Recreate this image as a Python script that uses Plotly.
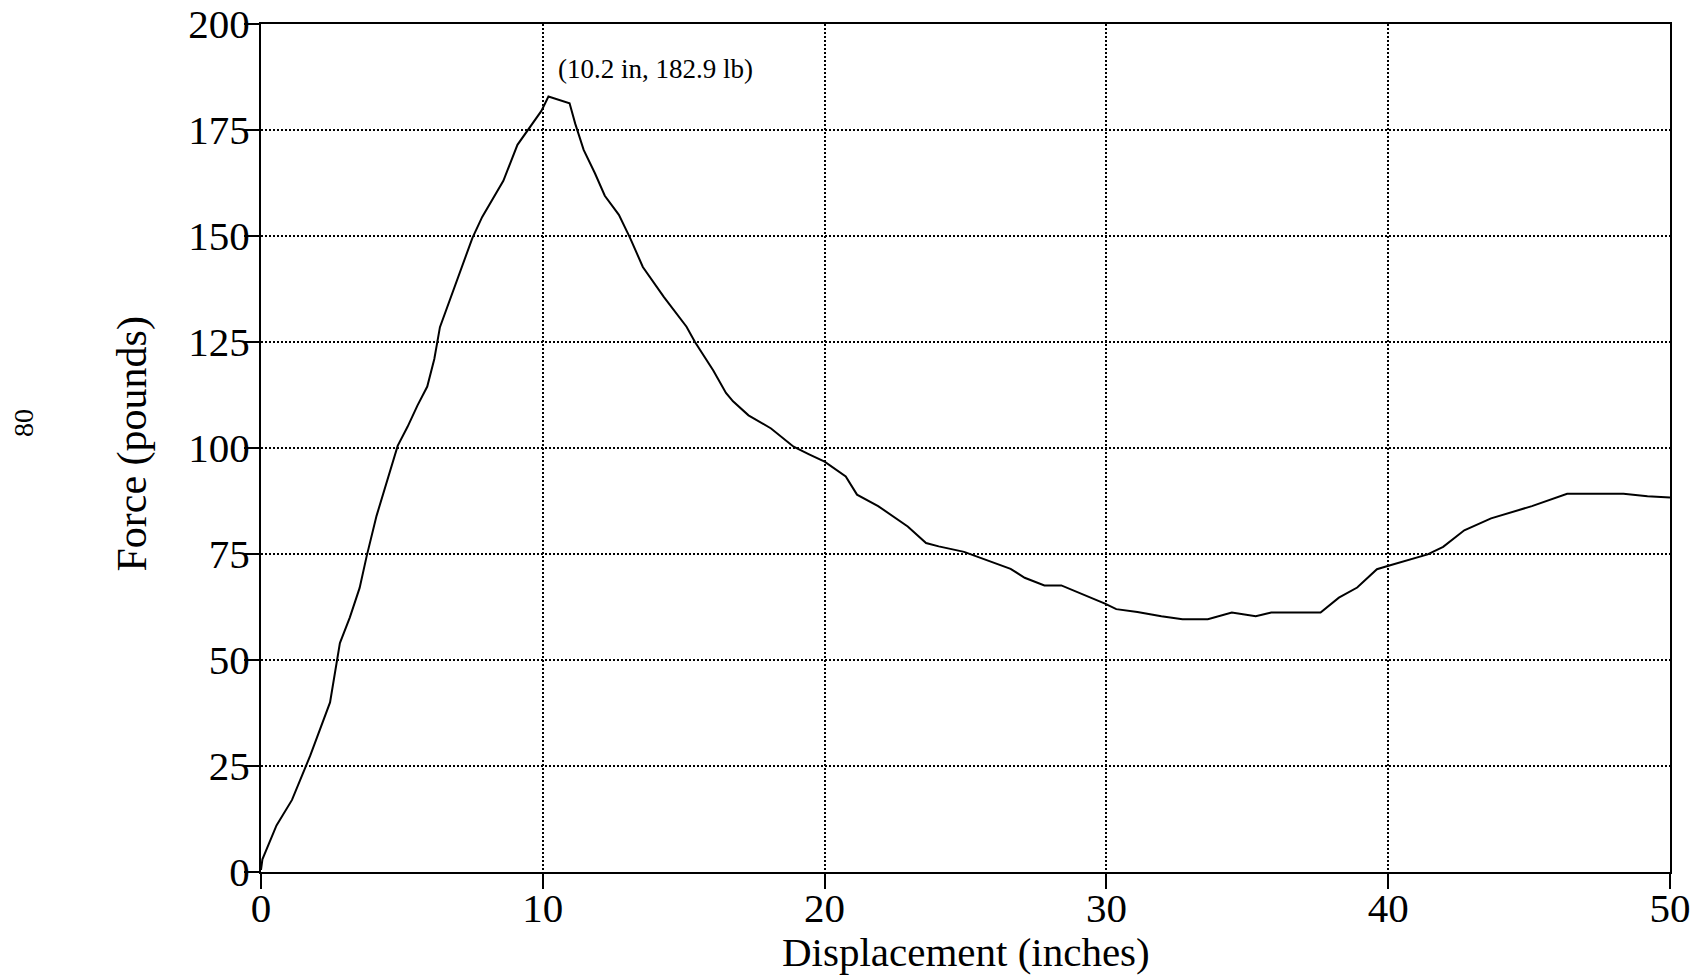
import plotly.graph_objects as go

# Force-displacement record
displacement_in = [
    0.0, 0.05, 0.55, 1.1, 1.75, 2.05, 2.45, 2.8, 3.15, 3.5, 3.75, 4.1, 4.5, 4.85,
    5.2, 5.55, 5.9, 6.15, 6.35, 6.7, 7.1, 7.5, 7.85, 8.2, 8.6, 9.1, 9.65, 9.95,
    10.2, 10.95, 11.15, 11.45, 11.85, 12.2, 12.7, 13.1, 13.55, 14.3, 15.1, 15.4,
    16.05, 16.5, 16.75, 17.3, 18.1, 18.9, 19.45, 20.0, 20.75, 21.15, 21.9, 22.95,
    23.6, 24.05, 24.95, 25.9, 26.6, 27.1, 27.8, 28.4, 29.2, 29.95, 30.35, 31.1,
    31.95, 32.7, 33.6, 34.45, 35.3, 35.85, 37.6, 38.25, 38.9, 39.6, 39.95, 40.55,
    41.4, 41.95, 42.7, 43.65, 45.1, 46.35, 48.35, 49.2, 50.0,
]
force_lb = [
    0.5, 3, 11, 17, 27.5, 33, 40, 54, 60, 67, 74.5, 84, 93, 100.5,
    105, 110, 114.5, 121, 128.5, 135, 142.5, 149.5, 154.5, 158.5, 163, 171.5, 176.5, 179.5,
    182.9, 181.3, 176.5, 170.3, 164.8, 159.5, 155, 149.5, 142.7, 135.6, 128.6, 125,
    118.3, 113, 111, 107.7, 104.6, 100.3, 98.5, 96.8, 93.3, 89, 86.3, 81.5,
    77.6, 76.8, 75.5, 73.3, 71.5, 69.4, 67.6, 67.6, 65.4, 63.3, 62, 61.3,
    60.3, 59.6, 59.6, 61.2, 60.3, 61.2, 61.2, 64.7, 67.1, 71.4, 72.1, 73.2,
    74.9, 76.7, 80.6, 83.4, 86.3, 89.2, 89.2, 88.6, 88.3,
]

x_ticks = [0, 10, 20, 30, 40, 50]
y_ticks = [0, 25, 50, 75, 100, 125, 150, 175, 200]

peak_x = 10.2
peak_y = 182.9

SERIF = "Liberation Serif, Times New Roman, serif"

fig = go.Figure()
fig.add_trace(go.Scatter(
    x=displacement_in, y=force_lb, mode="lines",
    line=dict(color="black", width=2), showlegend=False, hoverinfo="skip",
))

axis_common = dict(
    showline=True, linecolor="black", linewidth=2, mirror=True,
    ticks="outside", ticklen=15, tickwidth=2, tickcolor="black",
    showgrid=True, gridcolor="black", gridwidth=1.5, griddash="2px,2px",
    zeroline=False, automargin=False,
    tickfont=dict(family=SERIF, size=41, color="black"),
)

fig.update_xaxes(range=[0, 50], tickvals=x_ticks, ticklabelstandoff=-16, **axis_common)
fig.update_yaxes(range=[0, 200], tickvals=y_ticks, ticklabelstandoff=-14, **axis_common)

# axis titles
fig.add_annotation(
    text="Displacement (inches)", xref="paper", yref="paper",
    x=0.5, y=-0.094, xanchor="center", yanchor="middle", showarrow=False,
    font=dict(family=SERIF, size=41, color="black"),
)
fig.add_annotation(
    text="Force (pounds)", xref="paper", yref="paper",
    x=-0.091, y=0.505, xanchor="center", yanchor="middle", textangle=-90,
    showarrow=False, font=dict(family=SERIF, size=42, color="black"),
)

# peak callout
fig.add_annotation(
    text=f"({peak_x} in, {peak_y} lb)", x=peak_x, y=peak_y,
    xanchor="left", yanchor="middle", xshift=8, yshift=28, showarrow=False,
    font=dict(family=SERIF, size=27, color="black"),
)

# page number in the margin
fig.add_annotation(
    text="80", xref="paper", yref="paper",
    x=(23 - 261) / 1409, y=(872 - 423) / 848, xanchor="center", yanchor="middle",
    textangle=-90, showarrow=False,
    font=dict(family=SERIF, size=28, color="black"),
)

fig.update_layout(
    width=1703, height=980,
    margin=dict(l=261, r=33, t=24, b=108),
    paper_bgcolor="white", plot_bgcolor="white",
)

fig.write_html("out.html")
